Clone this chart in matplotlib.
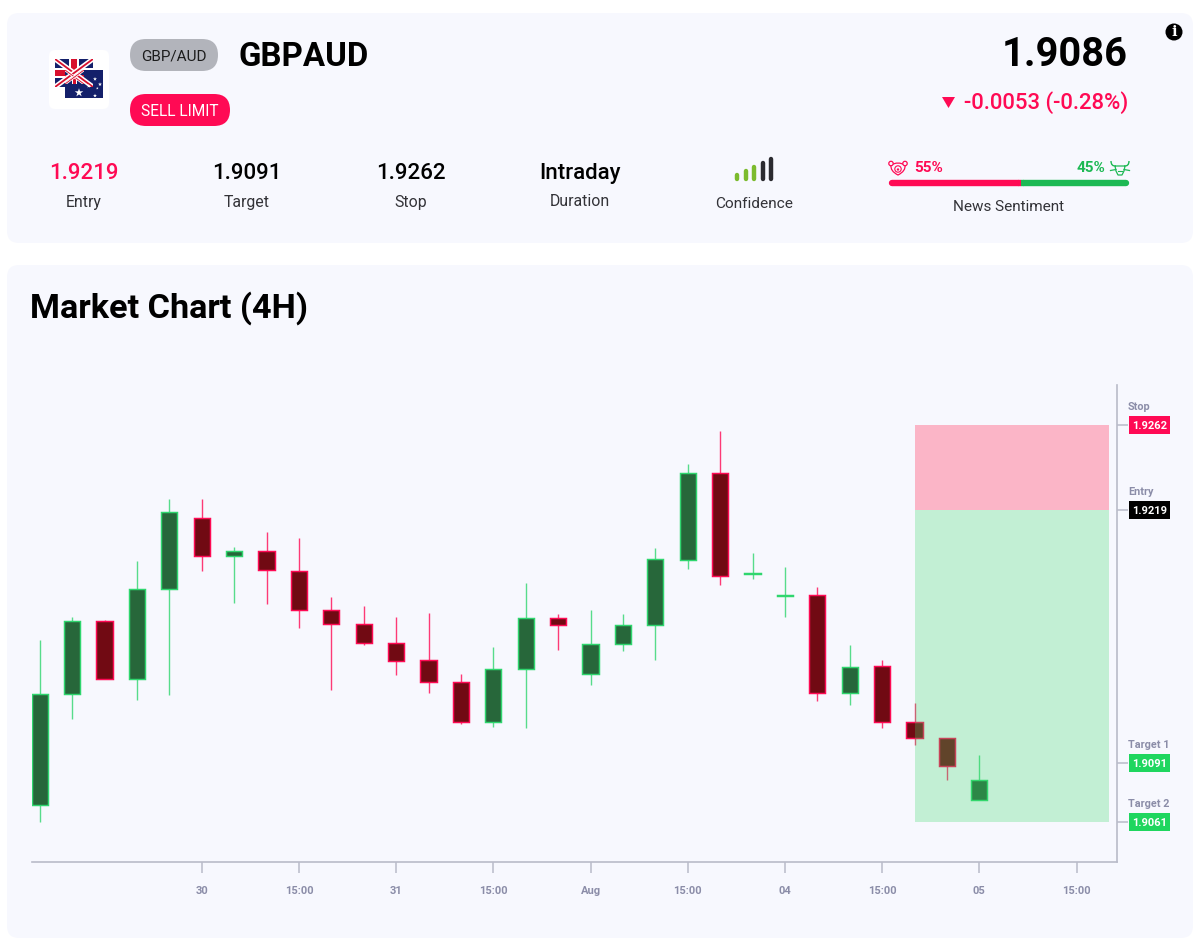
from matplotlib import pyplot as plt
from matplotlib.patches import FancyBboxPatch, Rectangle, Circle, Polygon, PathPatch
from matplotlib.path import Path

plt.rcParams['font.family'] = ['Roboto', 'DejaVu Sans']

# Velas (precos)
up = [1, 1, 0, 1, 1, 0, 1, 0, 0, 0, 0, 0, 0, 0, 1, 1, 0, 1, 1, 1, 1, 0, 1, 1, 0, 1, 0, 0, 0, 1]
highs = [1.91531, 1.91648, 1.91633, 1.91931, 1.92245, 1.92245, 1.92002, 1.92078, 1.92048, 1.91749,
         1.91704, 1.91648, 1.91668, 1.91359, 1.91496, 1.91820, 1.91663, 1.91683, 1.91663, 1.91997,
         1.92423, 1.92590, 1.91972, 1.91901, 1.91800, 1.91506, 1.91430, 1.91212, 1.91035, 1.90949]
body_tops = [1.91258, 1.91628, 1.91628, 1.91790, 1.92180, 1.92147, 1.91980, 1.91980, 1.91881, 1.91683,
             1.91612, 1.91516, 1.91430, 1.91319, 1.91385, 1.91643, 1.91643, 1.91511, 1.91607, 1.91942,
             1.92377, 1.92377, 1.91871, 1.91759, 1.91759, 1.91395, 1.91400, 1.91116, 1.91035, 1.90823]
body_bottoms = [1.90696, 1.91258, 1.91334, 1.91334, 1.91790, 1.91957, 1.91957, 1.91886, 1.91683, 1.91612,
                1.91516, 1.91425, 1.91319, 1.91116, 1.91116, 1.91385, 1.91607, 1.91359, 1.91511, 1.91607,
                1.91936, 1.91855, 1.91866, 1.91754, 1.91263, 1.91263, 1.91116, 1.91035, 1.90894, 1.90721]
lows = [1.90610, 1.91131, 1.91334, 1.91228, 1.91253, 1.91881, 1.91719, 1.91714, 1.91592, 1.91278,
        1.91506, 1.91354, 1.91263, 1.91106, 1.91091, 1.91086, 1.91481, 1.91304, 1.91476, 1.91430,
        1.91891, 1.91810, 1.91840, 1.91648, 1.91223, 1.91202, 1.91086, 1.91000, 1.90823, 1.90721]

tick_pos = [5, 8, 11, 14, 17, 20, 23, 26, 29, 32]
tick_labels = ['30', '15:00', '31', '15:00', 'Aug', '15:00', '04', '15:00', '05', '15:00']

# Niveis da operacao
level_names = ['Stop', 'Entry', 'Target 1', 'Target 2']
level_values = [1.9262, 1.9219, 1.9091, 1.9061]
level_colors = ['#ff0a54', '#000000', '#1fd65f', '#1fd65f']
zone_start = 27.0
zone_end = 33.0

stats_values = ['1.9219', '1.9091', '1.9262', 'Intraday']
stats_labels = ['Entry', 'Target', 'Stop', 'Duration']
stats_x = [84, 247, 411, 580]
stats_colors = ['#ff0a54', '#000000', '#000000', '#000000']
bear_pct = 55
bull_pct = 45
conf_heights = [7, 11, 15, 19, 23]
conf_colors = ['#7cbb2e', '#7cbb2e', '#7cbb2e', '#2b2b30', '#2b2b30']

W, H = 1200, 940
RED = '#ff0a54'
GREEN = '#1db954'
BG = '#f7f8fe'
GREY = '#8b8da8'
NAVY = '#14206a'

fig = plt.figure(figsize=(W / 100, H / 100), dpi=100, facecolor='white')
tela = fig.add_axes([0, 0, 1, 1], zorder=0)
tela.set_xlim(0, W)
tela.set_ylim(H, 0)
tela.axis('off')


def caixa(ax, x, y, w, h, r, cor, **kw):
    p = FancyBboxPatch((x + r, y + r), w - 2 * r, h - 2 * r, boxstyle=f'round,pad={r},rounding_size={r}',
                       fc=cor, ec='none', **kw)
    ax.add_patch(p)
    return p


def union_jack(ax, x, y, w, h, fundo=True):
    clip = Rectangle((x, y), w, h, fc=NAVY if fundo else 'none', ec='none')
    ax.add_patch(clip)
    esc = w / 38
    for a, b in [((x, y), (x + w, y + h)), ((x, y + h), (x + w, y))]:
        for cor, lw in [('white', 3.6), ('#d80f2d', 1.3)]:
            l, = ax.plot(*zip(a, b), color=cor, lw=lw * esc, solid_capstyle='butt')
            l.set_clip_path(clip)
    cx, cy = x + w / 2, y + h / 2
    ax.add_patch(Rectangle((x, cy - h / 6), w, h / 3, fc='white', ec='none'))
    ax.add_patch(Rectangle((cx - h / 6, y), h / 3, h, fc='white', ec='none'))
    ax.add_patch(Rectangle((x, cy - h / 9), w, h * 2 / 9, fc='#d80f2d', ec='none'))
    ax.add_patch(Rectangle((cx - h / 9, y), h * 2 / 9, h, fc='#d80f2d', ec='none'))


def bandeira(ax):
    # Reino Unido atras, Australia na frente
    union_jack(ax, 55, 59, 38, 28)
    ax.add_patch(Rectangle((65, 70), 38, 28, fc=NAVY, ec='none'))
    union_jack(ax, 65, 70, 19, 14)
    ax.scatter([79, 95, 88.7, 100, 97.3, 95], [92.7, 79, 86, 84.3, 88.3, 95.7],
               s=[42, 9, 9, 9, 4, 9], c='white', marker='*', lw=0, zorder=3)


def urso(ax, cx, cy, cor):
    verts = [(cx - 7, cy - 3), (cx, cy - 7), (cx + 7, cy - 3), (cx + 8, cy + 3), (cx, cy + 7),
             (cx - 8, cy + 3), (cx - 7, cy - 3)]
    codes = [Path.MOVETO, Path.CURVE3, Path.CURVE3, Path.CURVE3, Path.CURVE3, Path.CURVE3, Path.CURVE3]
    ax.add_patch(PathPatch(Path(verts, codes), fc='none', ec=cor, lw=0.9))
    ax.add_patch(Circle((cx - 7, cy - 4.5), 2.2, fc=BG, ec=cor, lw=0.9))
    ax.add_patch(Circle((cx + 7, cy - 4.5), 2.2, fc=BG, ec=cor, lw=0.9))
    ax.add_patch(Circle((cx, cy + 1), 3.2, fc='none', ec=cor, lw=0.8))
    ax.add_patch(Circle((cx, cy + 1.5), 1.2, fc=cor, ec='none'))


def touro(ax, cx, cy, cor):
    ax.add_patch(Polygon([(cx - 5, cy - 2), (cx + 5, cy - 2), (cx + 4, cy + 3), (cx + 2, cy + 7), (cx - 2, cy + 7), (cx - 4, cy + 3)],
                         fc='none', ec=cor, lw=0.9, joinstyle='round'))
    for s in (-1, 1):
        verts = [(cx + s * 4, cy - 2), (cx + s * 9, cy - 1.5), (cx + s * 9, cy - 7)]
        ax.add_patch(PathPatch(Path(verts, [Path.MOVETO, Path.CURVE3, Path.CURVE3]), fc='none', ec=cor, lw=1.0))
        ax.plot([cx + s * 9.5, cx + s * 4], [cy + 2.5, cy + 1.5], color=cor, lw=0.9)
    ax.plot([cx - 2, cx + 2], [cy + 3, cy + 3], color=cor, lw=0.8)


# Paineis
caixa(tela, 7, 13, 1186, 230, 12, BG)
caixa(tela, 7, 265, 1186, 673, 12, BG)

# Cabecalho
caixa(tela, 49, 50, 60, 59, 6, 'white')
bandeira(tela)
caixa(tela, 130, 39, 88, 32, 16, '#b2b4bb')
tela.text(174, 56.5, 'GBP/AUD', ha='center', va='center', fontsize=11, color='#1c1c1c')
tela.text(239, 57, 'GBPAUD', ha='left', va='center', fontsize=23.8, fontweight='bold', color='black')
caixa(tela, 130, 94, 100, 32, 16, RED)
tela.text(180, 111.5, 'SELL LIMIT', ha='center', va='center', fontsize=11.2, color='white')
tela.text(1128, 55, '1.9086', ha='right', va='center', fontsize=28.6, fontweight='bold', color='black')
tela.text(1128, 103, '-0.0053 (-0.28%)', ha='right', va='center', fontsize=15.9, fontweight='medium', color=RED)
tela.add_patch(Polygon([(942, 97), (955, 97), (948.5, 108)], fc=RED, ec='none'))
tela.add_patch(Circle((1174, 32), 8.5, fc='black', ec='none'))
tela.text(1174, 32.5, 'i', ha='center', va='center', fontsize=10.5, fontweight='bold', color='white',
          family='DejaVu Serif')

# Numeros da operacao
for x, v, l, c in zip(stats_x, stats_values, stats_labels, stats_colors):
    tela.text(x, 173.5, v, ha='center', va='center', fontsize=16, fontweight='medium', color=c)
    tela.text(x, 202, l, ha='center', va='center', fontsize=11.4, color='#333338')

# Confianca
for i, (h, c) in enumerate(zip(conf_heights, conf_colors)):
    x = 735 + i * 8.6
    tela.plot([x + 2, x + 2], [179.5 - h + 2, 178.5], color=c, lw=3.2, solid_capstyle='round')
tela.text(754, 203.5, 'Confidence', ha='center', va='center', fontsize=11.1, color='#333338')

# Sentimento
bar_x0, bar_x1 = 889, 1129
meio = bar_x0 + (bar_x1 - bar_x0) * bear_pct / (bear_pct + bull_pct)
tela.plot([bar_x0 + 3, meio - 3], [183, 183], color=RED, lw=4.6, solid_capstyle='round')
tela.plot([meio + 3, bar_x1 - 3], [183, 183], color=GREEN, lw=4.6, solid_capstyle='round')
tela.plot([meio, meio + 3], [183, 183], color=GREEN, lw=4.6, solid_capstyle='butt')
tela.plot([meio - 3, meio], [183, 183], color=RED, lw=4.6, solid_capstyle='butt')
urso(tela, 898, 168, RED)
touro(tela, 1120, 168, GREEN)
tela.text(914, 168.5, f'{bear_pct}%', ha='left', va='center', fontsize=11, fontweight='bold', color=RED)
tela.text(1105, 168.5, f'{bull_pct}%', ha='right', va='center', fontsize=11, fontweight='bold', color=GREEN)
tela.text(1009, 207, 'News Sentiment', ha='center', va='center', fontsize=11, color='#333338')

tela.text(30, 308, 'Market Chart (4H)', ha='left', va='center', fontsize=24.7, fontweight='bold', color='black')

# Grafico de velas
ax_x0, ax_x1, ax_y0, ax_y1 = 32, 1117, 385, 862
ax = fig.add_axes([ax_x0 / W, 1 - ax_y1 / H, (ax_x1 - ax_x0) / W, (ax_y1 - ax_y0) / H], zorder=1)
ax.patch.set_alpha(0)
ax.set_xlim(-0.24, 33.25)
ax.set_ylim(1.90407, 1.92823)
for s in ['top', 'left']:
    ax.spines[s].set_visible(False)
for s in ['right', 'bottom']:
    ax.spines[s].set_color('#b9bbc9')
    ax.spines[s].set_linewidth(1.2)

for i in range(len(up)):
    borda = '#2fd66e' if up[i] else RED
    corpo = '#27673a' if up[i] else '#710a13'
    ax.vlines(i, lows[i], highs[i], color=borda, lw=1.0, alpha=0.8, zorder=2)
    ax.add_patch(Rectangle((i - 0.25, body_bottoms[i]), 0.5, body_tops[i] - body_bottoms[i],
                           fc=corpo, ec=borda, lw=1.05, zorder=3))

# Zonas de risco e alvo
ax.add_patch(Rectangle((zone_start, level_values[1]), zone_end - zone_start, level_values[0] - level_values[1],
                       fc='#ff7492', ec='none', alpha=0.5, zorder=4))
ax.add_patch(Rectangle((zone_start, level_values[3]), zone_end - zone_start, level_values[1] - level_values[3],
                       fc='#3adb68', ec='none', alpha=0.28, zorder=4))

ax.set_xticks(tick_pos)
ax.set_xticklabels(tick_labels, fontsize=8, fontweight='bold', color=GREY)
ax.tick_params(axis='x', length=8, width=1.1, color='#b9bbc9', pad=9)
ax.yaxis.tick_right()
ax.set_yticks(level_values)
ax.set_yticklabels([])
ax.tick_params(axis='y', length=8, width=1.1, color='#b9bbc9')

for nome, v, c in zip(level_names, level_values, level_colors):
    y = ax.transData.transform((0, v))[1]
    yp = H - y
    tela.add_patch(Rectangle((1129, yp - 9), 41, 18, fc=c, ec='none'))
    tela.text(1149.5, yp + 1, f'{v:.4f}', ha='center', va='center', fontsize=8, fontweight='bold', color='white')
    tela.text(1128, yp - 18, nome, ha='left', va='center', fontsize=7.8, fontweight='bold', color=GREY)

fig.savefig('out.png', dpi=100, facecolor='white')
